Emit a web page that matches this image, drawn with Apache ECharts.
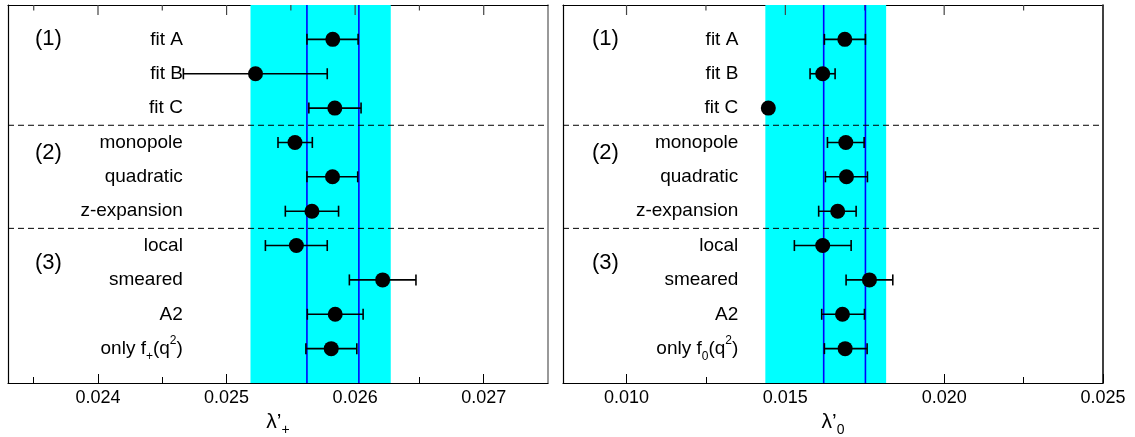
<!DOCTYPE html>
<html>
<head>
<meta charset="utf-8">
<script src="https://cdn.jsdelivr.net/npm/echarts@6/dist/echarts.min.js"></script>
<style>
html,body{margin:0;padding:0;background:#fff;}
#chart{width:1135px;height:437px;}
</style>
</head>
<body>
<div id="chart"></div>
<script>
// ---------- data ----------
const categoriesPlus = ['fit A','fit B','fit C','monopole','quadratic','z-expansion','local','smeared','A2','{t|only f}{sub|+}{t|(q}{sup|2}{t|)}'];
const categoriesZero = ['fit A','fit B','fit C','monopole','quadratic','z-expansion','local','smeared','A2','{t|only f}{sub|0}{t|(q}{sup|2}{t|)}'];
const groupLabels = ['(1)','(2)','(3)'];

const plusCentral = [0.025826, 0.025225, 0.025842, 0.025532, 0.025824, 0.025664, 0.025543, 0.026214, 0.025845, 0.025814];
const plusLow     = [0.025625, 0.024664, 0.025640, 0.025400, 0.025625, 0.025457, 0.025302, 0.025955, 0.025628, 0.025617];
const plusHigh    = [0.026023, 0.025783, 0.026046, 0.025667, 0.026020, 0.025871, 0.025783, 0.026473, 0.026062, 0.026013];
const plusBand    = [0.025186, 0.026277];
const plusLines   = [0.025625, 0.026029];
const plusMajorTicks = [0.024, 0.025, 0.026, 0.027];
const plusMinorTicks = [0.0235, 0.0245, 0.0255, 0.0265];

const zeroCentral = [0.016872, 0.016176, 0.014464, 0.016903, 0.016924, 0.016648, 0.016176, 0.017647, 0.016798, 0.016882];
const zeroLow     = [0.016229, 0.015778, 0.014464, 0.016325, 0.016261, 0.016049, 0.015284, 0.016912, 0.016145, 0.016229];
const zeroHigh    = [0.017521, 0.016566, 0.014464, 0.017480, 0.017584, 0.017228, 0.017071, 0.018382, 0.017490, 0.017574];
const zeroBand    = [0.01437, 0.018173];
const zeroLines   = [0.016207, 0.017521];
const zeroMajorTicks = [0.010, 0.015, 0.020, 0.025];
const zeroMinorTicks = [0.0125, 0.0175, 0.0225];

// ---------- layout ----------
const FONT = 'Liberation Sans, Arial, sans-serif';
const richText = {
  t:   {fontSize: 19, fontFamily: FONT, color: '#000', lineHeight: 28},
  sub: {fontSize: 12, fontFamily: FONT, color: '#000', verticalAlign: 'bottom', lineHeight: 10},
  sup: {fontSize: 12, fontFamily: FONT, color: '#000', verticalAlign: 'top', lineHeight: 12}
};
const nameRich = {
  t:   {fontSize: 21, fontFamily: FONT, color: '#000', lineHeight: 30},
  sub: {fontSize: 14, fontFamily: FONT, color: '#000', verticalAlign: 'bottom', lineHeight: 12}
};

const panels = [
  {grid: {left: 8, right: 587, top: 5, bottom: 54}, min: 0.0233, max: 0.0275,
   cats: categoriesPlus, c: plusCentral, lo: plusLow, hi: plusHigh, band: plusBand, lines: plusLines,
   major: plusMajorTicks, minor: plusMinorTicks, name: '{t|λ’}{sub|+}',
   labelX: 0.02466, groupX: 0.02351, rightBorder: '#777'},
  {grid: {left: 563, right: 32, top: 5, bottom: 54}, min: 0.008, max: 0.025,
   cats: categoriesZero, c: zeroCentral, lo: zeroLow, hi: zeroHigh, band: zeroBand, lines: zeroLines,
   major: zeroMajorTicks, minor: zeroMinorTicks, name: '{t|λ’}{sub|0}',
   labelX: 0.01352, groupX: 0.00891, rightBorder: '#000'}
];
const groupRows = [0, 3.3, 6.5];
const dashedRows = [2.5, 5.5];

const grid = [], xAxis = [], yAxis = [], series = [];
panels.forEach((p, i) => {
  grid.push(Object.assign({outerBoundsMode: 'none', containLabel: false}, p.grid));
  const base = {type: 'value', gridIndex: i, min: p.min, max: p.max, splitLine: {show: false}};
  const xi = xAxis.length;
  xAxis.push(Object.assign({}, base, {
    position: 'bottom',
    axisLine: {show: true, onZero: false, lineStyle: {color: '#000', width: 1.2}},
    axisTick: {show: true, inside: true, length: 9, customValues: p.major, lineStyle: {color: '#000'}},
    axisLabel: {show: true, customValues: p.major, margin: 6, color: '#000', fontSize: 18, fontFamily: FONT,
      formatter: v => v.toFixed(3)},
    name: p.name, nameLocation: 'middle', nameGap: 22,
    nameTextStyle: {rich: nameRich, verticalAlign: 'top'}
  }));
  xAxis.push(Object.assign({}, base, {
    position: 'bottom', axisLine: {show: false, onZero: false},
    axisTick: {show: true, inside: true, length: 6, customValues: p.minor, lineStyle: {color: '#000'}},
    axisLabel: {show: false}
  }));
  xAxis.push(Object.assign({}, base, {
    position: 'top',
    axisLine: {show: true, onZero: false, lineStyle: {color: '#000', width: 1.2}},
    axisTick: {show: false},
    axisLabel: {show: false}
  }));
  const yi = yAxis.length;
  const ybase = {type: 'value', gridIndex: i, min: -1, max: 10, inverse: true,
    splitLine: {show: false}, axisTick: {show: false}, axisLabel: {show: false}};
  yAxis.push(Object.assign({}, ybase, {position: 'left', axisLine: {show: true, onZero: false, lineStyle: {color: '#000', width: 1.2}}}));
  yAxis.push(Object.assign({}, ybase, {position: 'right', axisLine: {show: true, onZero: false, lineStyle: {color: p.rightBorder, width: 1.5}}}));

  // cyan band
  series.push({type: 'custom', xAxisIndex: xi, yAxisIndex: yi, z: 1, silent: true,
    data: [[p.band[0], p.band[1]]],
    renderItem: (params, api) => {
      const cs = params.coordSys;
      const a = api.coord([api.value(0), 0]);
      const b = api.coord([api.value(1), 0]);
      return {type: 'rect', shape: {x: a[0], y: cs.y, width: b[0] - a[0], height: cs.height},
        style: {fill: '#00ffff'}};
    }});
  // top-edge ticks (mirror of bottom axis ticks)
  series.push({type: 'custom', xAxisIndex: xi, yAxisIndex: yi, z: 2, silent: true,
    data: p.major.map(v => [v, 1]).concat(p.minor.map(v => [v, 0])),
    renderItem: (params, api) => {
      const cs = params.coordSys;
      const a = api.coord([api.value(0), 0]);
      const len = api.value(1) ? 10 : 5.5;
      return {type: 'line', shape: {x1: a[0], y1: cs.y, x2: a[0], y2: cs.y + len},
        style: {stroke: '#444', lineWidth: 1.2}};
    }});
  // blue vertical lines
  series.push({type: 'custom', xAxisIndex: xi, yAxisIndex: yi, z: 2, silent: true,
    data: p.lines.map(v => [v]),
    renderItem: (params, api) => {
      const cs = params.coordSys;
      const a = api.coord([api.value(0), 0]);
      return {type: 'line', shape: {x1: a[0], y1: cs.y, x2: a[0], y2: cs.y + cs.height},
        style: {stroke: '#0000ff', lineWidth: 1.6}};
    }});
  // dashed separators
  series.push({type: 'custom', xAxisIndex: xi, yAxisIndex: yi, z: 2, silent: true,
    data: dashedRows.map(r => [p.min, r]),
    renderItem: (params, api) => {
      const cs = params.coordSys;
      const a = api.coord([api.value(0), api.value(1)]);
      return {type: 'line', shape: {x1: cs.x, y1: a[1], x2: cs.x + cs.width, y2: a[1]},
        style: {stroke: '#000', lineWidth: 1, lineDash: [6, 4]}};
    }});
  // error bars
  series.push({type: 'custom', xAxisIndex: xi, yAxisIndex: yi, z: 3, silent: true,
    data: p.c.map((v, k) => [p.lo[k], p.hi[k], k]),
    renderItem: (params, api) => {
      const a = api.coord([api.value(0), api.value(2)]);
      const b = api.coord([api.value(1), api.value(2)]);
      const h = 5.5;
      const st = {stroke: '#000', lineWidth: 1.6};
      return {type: 'group', children: [
        {type: 'line', shape: {x1: a[0], y1: a[1], x2: b[0], y2: b[1]}, style: st},
        {type: 'line', shape: {x1: a[0], y1: a[1] - h, x2: a[0], y2: a[1] + h}, style: st},
        {type: 'line', shape: {x1: b[0], y1: b[1] - h, x2: b[0], y2: b[1] + h}, style: st}
      ]};
    }});
  // points
  series.push({type: 'scatter', xAxisIndex: xi, yAxisIndex: yi, z: 4, symbol: 'circle', symbolSize: 15,
    itemStyle: {color: '#000', opacity: 1}, data: p.c.map((v, k) => [v, k])});
  // category labels
  series.push({type: 'scatter', xAxisIndex: xi, yAxisIndex: yi, z: 5, symbolSize: 0, silent: true,
    itemStyle: {opacity: 1},
    data: p.cats.map((name, k) => ({value: [p.labelX, k], name: name})),
    label: {show: true, position: 'left', distance: 0, color: '#000', opacity: 1, fontSize: 19, fontFamily: FONT,
      formatter: d => d.name, rich: richText}});
  // group labels
  series.push({type: 'scatter', xAxisIndex: xi, yAxisIndex: yi, z: 5, symbolSize: 0, silent: true,
    itemStyle: {opacity: 1},
    data: groupLabels.map((name, k) => ({value: [p.groupX, groupRows[k]], name: name})),
    label: {show: true, position: 'right', distance: 0, color: '#000', opacity: 1, fontSize: 22, fontFamily: FONT,
      formatter: d => d.name}});
});

const chart = echarts.init(document.getElementById('chart'), null, {renderer: 'canvas'});
chart.setOption({animation: false, backgroundColor: '#fff', grid, xAxis, yAxis, series});
</script>
</body>
</html>
